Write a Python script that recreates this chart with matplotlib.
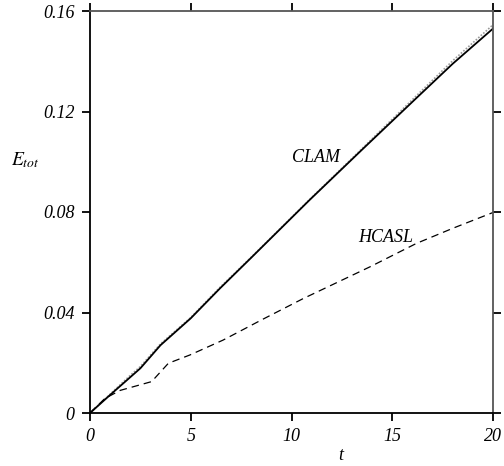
import matplotlib
matplotlib.use("Agg")
import matplotlib.pyplot as plt
import numpy as np

plt.rcParams['font.family'] = ['Liberation Serif', 'DejaVu Serif']
plt.rcParams['font.style'] = 'italic'
plt.rcParams['mathtext.fontset'] = 'stix'

# CLAM (solid)
t_clam = [0, 1.0, 2.5, 3.5, 5.0, 6.45, 8.0, 10.9, 13.5, 16.1, 18.0, 20.0]
e_clam = [0, 0.0072, 0.0178, 0.0270, 0.0377, 0.0496, 0.0618, 0.0848, 0.1048, 0.1246, 0.1390, 0.1530]
# CLAM reference (gray dotted, nearly coincident)
t_ref = [0, 1.0, 2.0, 2.5, 3.5, 5.0, 6.45, 8.0, 10.9, 13.5, 16.1, 18.0, 20.0]
e_ref = [0, 0.0075, 0.0150, 0.0185, 0.0275, 0.0380, 0.0500, 0.0620, 0.0850, 0.1052, 0.1255, 0.1402, 0.1545]
# HCASL (dashed)
t_hcasl = [0, 0.74, 1.5, 3.06, 3.89, 4.96, 6.6, 8.5, 10.57, 13.9, 16.2, 18.0, 20.0]
e_hcasl = [0, 0.0058, 0.0090, 0.0125, 0.0198, 0.0231, 0.0290, 0.0370, 0.0455, 0.0582, 0.0675, 0.0735, 0.0798]

xticks = [0, 5, 10, 15, 20]
xticklabels = ['0', '5', '10', '15', '20']
yticks = [0, 0.04, 0.08, 0.12, 0.16]
yticklabels = ['0', '0.04', '0.08', '0.12', '0.16']

fig = plt.figure(figsize=(5.04, 4.66), dpi=100)
ax = fig.add_axes([90/504, 53/466, 403/504, 402/466])

ax.plot(t_ref, e_ref, color='#999999', lw=1.2, ls=(0, (1, 1)))
ax.plot(t_clam, e_clam, color='black', lw=1.3)
ax.plot(t_hcasl, e_hcasl, color='black', lw=0.9, ls=(0, (6, 4)))

ax.set_xlim(0, 20)
ax.set_ylim(0, 0.16)
ax.set_xticks(xticks)
ax.set_xticklabels(xticklabels)
ax.set_yticks(yticks)
ax.set_yticklabels(yticklabels)
ax.tick_params(direction='out', length=6, width=1.3, labelsize=13, pad=5,
               top=True, right=True, labeltop=False, labelright=False)
for s in ['left', 'bottom']:
    ax.spines[s].set_linewidth(1.3)
    ax.spines[s].set_color('black')
for s in ['top', 'right']:
    ax.spines[s].set_linewidth(1.3)
    ax.spines[s].set_color('#555555')

ax.text(10.0, 0.1015, 'CLAM', fontsize=13, style='italic', ha='left', va='center')
ax.text(13.3, 0.0700, 'HCASL', fontsize=13, style='italic', ha='left', va='center')
fig.text(25/504, 1 - 160/466, r'$E_{tot}$', fontsize=14, ha='center', va='center')
fig.text(341/504, 1 - 456/466, 't', fontsize=13, style='italic', ha='center', va='center')

fig.savefig('out.png', dpi=100)
